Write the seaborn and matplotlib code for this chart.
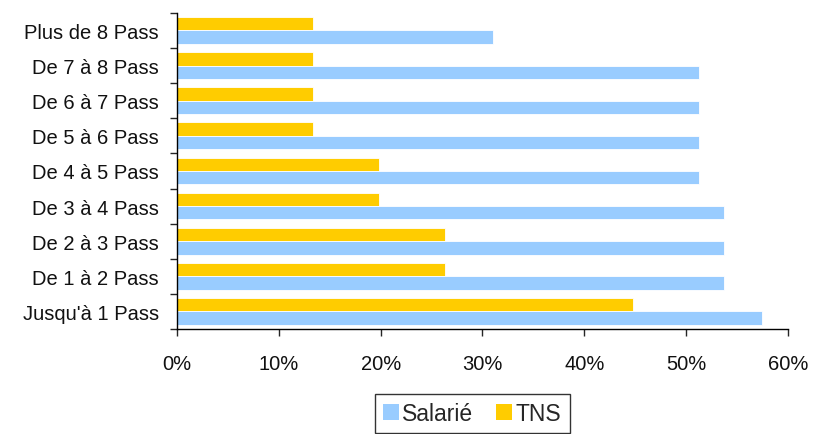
import numpy as np
import pandas as pd
import matplotlib
matplotlib.use("Agg")
import matplotlib.pyplot as plt
from matplotlib.patches import Patch
from matplotlib.ticker import FuncFormatter
import seaborn as sns

# --- Données (en %) ---
tranches = ["Plus de 8 Pass", "De 7 à 8 Pass", "De 6 à 7 Pass", "De 5 à 6 Pass",
            "De 4 à 5 Pass", "De 3 à 4 Pass", "De 2 à 3 Pass", "De 1 à 2 Pass",
            "Jusqu'à 1 Pass"]
salarie = [31.0, 51.3, 51.3, 51.3, 51.3, 53.7, 53.7, 53.7, 57.4]
tns = [13.4, 13.4, 13.4, 13.4, 19.8, 19.8, 26.3, 26.3, 44.8]

couleurs = {"Salarié": "#99CCFF", "TNS": "#FFCC00"}

df = pd.DataFrame({
    "tranche": tranches * 2,
    "taux": salarie + tns,
    "statut": ["Salarié"] * len(tranches) + ["TNS"] * len(tranches),
})

sns.set_style("white")
plt.rcParams["font.family"] = ["Liberation Sans", "DejaVu Sans"]

fig = plt.figure(figsize=(8.17, 4.35), dpi=100)
ax = fig.add_axes([0.2166, 0.2414, 0.7479, 0.7266])

sns.barplot(data=df, x="taux", y="tranche", hue="statut", order=tranches,
            hue_order=["TNS", "Salarié"], palette=couleurs, saturation=1,
            orient="h", width=0.76, edgecolor="#FFFFFF", linewidth=0.6,
            ax=ax, legend=False)

ax.set_xlim(0, 60)
ax.set_ylim(8.5, -0.5)
ax.set_xticks(np.arange(0, 61, 10))
ax.xaxis.set_major_formatter(FuncFormatter(lambda v, p: f"{v:.0f}%"))
ax.set_xlabel("")
ax.set_ylabel("")

# ticks de l'axe Y entre les catégories, libellés au centre
ax.set_yticks(np.arange(-0.5, 9, 1))
ax.set_yticklabels([])
ax.set_yticks(np.arange(9), minor=True)
ax.set_yticklabels(tranches, minor=True, fontsize=14.5, color="#111111")
ax.tick_params(axis="y", which="major", length=5, width=1, direction="out", left=True)
ax.tick_params(axis="y", which="minor", length=0, pad=13)
ax.tick_params(axis="x", length=5, width=1, direction="out", bottom=True,
               labelsize=14.5, pad=13, labelcolor="#111111")

for side in ["top", "right"]:
    ax.spines[side].set_visible(False)
for side in ["left", "bottom"]:
    ax.spines[side].set_color("black")
    ax.spines[side].set_linewidth(1)

handles = [Patch(facecolor=couleurs["Salarié"], edgecolor="none", label="Salarié"),
           Patch(facecolor=couleurs["TNS"], edgecolor="none", label="TNS")]
leg = fig.legend(handles=handles, loc="upper center", bbox_to_anchor=(0.578, 0.092),
                 ncol=2, frameon=True, fancybox=False, fontsize=16.5,
                 handlelength=0.7, handleheight=0.7, handletextpad=0.15,
                 columnspacing=1.0, borderpad=0.35, borderaxespad=0)
leg.get_frame().set_edgecolor("black")
leg.get_frame().set_linewidth(1)

fig.savefig("out.png", dpi=100)
